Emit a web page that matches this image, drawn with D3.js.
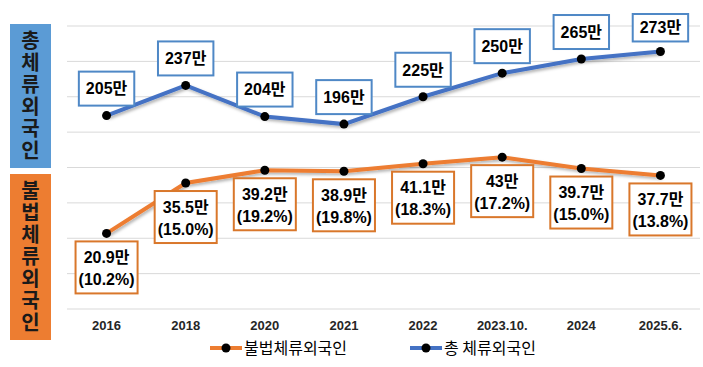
<!DOCTYPE html>
<html><head><meta charset="utf-8">
<script src="https://cdn.jsdelivr.net/npm/d3@7"></script>
<style>body{margin:0;background:#fff}svg{display:block}</style>
</head><body><svg id="c" width="703" height="367"></svg>
<script>
const categories = ["2016","2018","2020","2021","2022","2023.10.","2024","2025.6."];
const totalValues = [205,237,204,196,225,250,265,273];
const illegalValues = [20.9,35.5,39.2,38.9,41.1,43,39.7,37.7];
const illegalShares = ["10.2%","15.0%","19.2%","19.8%","18.3%","17.2%","15.0%","13.8%"];
const gridTicks = [0,37.5,75,112.5,150,187.5,225,262.5,300];
const totalLabel = "총체류외국인";
const illegalLabel = "불법체류외국인";
const legendNames = ["불법체류외국인","총 체류외국인"];

const svg = d3.select("#c");
const FONT = "'Liberation Sans','Noto Sans CJK KR',sans-serif";
const KFONT = "'Noto Sans CJK KR',sans-serif";
const BLUE = "#4472c4", ORANGE = "#ed7d31";

const defs = svg.append("defs");
const f = defs.append("filter").attr("id","sh").attr("x","-10%").attr("y","-50%").attr("width","120%").attr("height","200%");
f.append("feDropShadow").attr("dx",1.5).attr("dy",2).attr("stdDeviation",1.5).attr("flood-color","#000").attr("flood-opacity",0.3);

const x = d3.scaleBand().domain(categories).range([67,700]);
const yT = d3.scaleLinear().domain([0,300]).range([309,26]);
const yI = d3.scaleLinear().domain([-1,81]).range([309,26]);
const cx = d => x(d) + x.bandwidth()/2;

// gridlines
svg.append("g").selectAll("line").data(gridTicks).join("line")
  .attr("x1",67).attr("x2",700).attr("y1",d=>yT(d)).attr("y2",d=>yT(d))
  .attr("stroke","#d9d9d9").attr("stroke-width",1);

// x axis labels
const xa = svg.append("g").attr("transform","translate(0,321)")
  .call(d3.axisBottom(x).tickSize(0).tickPadding(0));
xa.select(".domain").remove();
xa.selectAll("text").attr("font-family",FONT).attr("font-weight","bold").attr("font-size",13).attr("fill","#262626").attr("dy","0.71em");

// left side boxes (vertical text)
function sideBox(y0,y1,color,label){
  svg.append("rect").attr("x",10).attr("y",y0).attr("width",41).attr("height",y1-y0).attr("fill",color);
  svg.append("text")
    .attr("x",30.5).attr("y",(y0+y1)/2)
    .attr("text-anchor","middle")
    .style("writing-mode","vertical-rl").style("text-orientation","upright")
    .attr("letter-spacing",2)
    .attr("font-family",KFONT).attr("font-weight","bold").attr("font-size",20).attr("fill","#1a1a1a")
    .text(label);
}
sideBox(24,168,"#5b9bd5",totalLabel);
sideBox(174,340,ORANGE,illegalLabel);

// lines
const lineT = d3.line().x((d,i)=>cx(categories[i])).y(d=>yT(d));
const lineI = d3.line().x((d,i)=>cx(categories[i])).y(d=>yI(d));
svg.append("path").attr("d",lineT(totalValues)).attr("fill","none").attr("stroke",BLUE).attr("stroke-width",4).attr("filter","url(#sh)");
svg.append("path").attr("d",lineI(illegalValues)).attr("fill","none").attr("stroke",ORANGE).attr("stroke-width",4).attr("filter","url(#sh)");
svg.append("g").selectAll("circle").data(totalValues).join("circle")
  .attr("cx",(d,i)=>cx(categories[i])).attr("cy",d=>yT(d)).attr("r",4.5).attr("fill","#000");
svg.append("g").selectAll("circle").data(illegalValues).join("circle")
  .attr("cx",(d,i)=>cx(categories[i])).attr("cy",d=>yI(d)).attr("r",4.5).attr("fill","#000");

// blue labels
totalValues.forEach((v,i)=>{
  const px = cx(categories[i]), py = yT(v);
  const g = svg.append("g");
  const t = g.append("text").attr("text-anchor","middle").attr("font-family",FONT).attr("font-weight","bold").attr("font-size",16).attr("fill","#000").text(v+"만");
  const w = t.node().getComputedTextLength() + 14;
  let bottom = py - 10, top = bottom - 34;
  if (top < 14) { top = 14; }
  g.insert("rect","text").attr("x",px-w/2).attr("y",top).attr("width",w).attr("height",bottom-top)
    .attr("fill","#fff").attr("stroke","#4f88c6").attr("stroke-width",2);
  t.attr("x",px).attr("y",(top+bottom)/2).attr("dy","0.36em");
});

// orange labels
illegalValues.forEach((v,i)=>{
  const px = cx(categories[i]), py = yI(v);
  const g = svg.append("g");
  const top = py + 8;
  const t1 = g.append("text").attr("x",px).attr("y",top+16).attr("dy","0.36em").attr("text-anchor","middle")
    .attr("font-family",FONT).attr("font-weight","bold").attr("font-size",16).attr("fill","#000").text(v+"만");
  const t2 = g.append("text").attr("x",px).attr("y",top+38).attr("dy","0.36em").attr("text-anchor","middle")
    .attr("font-family",FONT).attr("font-weight","bold").attr("font-size",16).attr("fill","#000").text("("+illegalShares[i]+")");
  const w = Math.max(t1.node().getComputedTextLength(), t2.node().getComputedTextLength()) + 6;
  g.insert("rect","text").attr("x",px-w/2).attr("y",top).attr("width",w).attr("height",52)
    .attr("fill","#fff").attr("stroke","#d9772b").attr("stroke-width",2);
});

// legend
const legend = [{name:legendNames[0],color:ORANGE,x:210},{name:legendNames[1],color:BLUE,x:410}];
legend.forEach(l=>{
  const g = svg.append("g").attr("transform",`translate(${l.x},348)`);
  g.append("line").attr("x1",0).attr("x2",32).attr("y1",0).attr("y2",0).attr("stroke",l.color).attr("stroke-width",4);
  g.append("circle").attr("cx",16).attr("cy",0).attr("r",4.5).attr("fill","#000");
  g.append("text").attr("x",34).attr("y",0).attr("dy","0.36em").attr("font-family",KFONT).attr("font-size",16).attr("fill","#000").text(l.name);
});
</script></body></html>
